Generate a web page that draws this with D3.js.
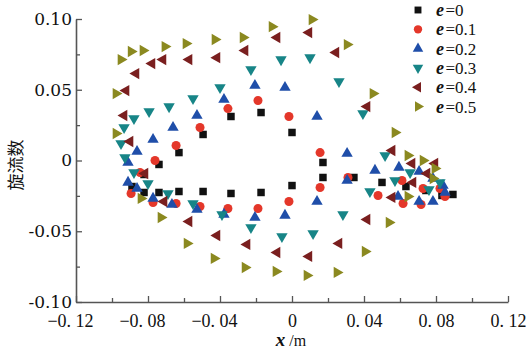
<!DOCTYPE html>
<html>
<head>
<meta charset="utf-8">
<script src="https://cdn.jsdelivr.net/npm/d3@7"></script>
<style>
  body { margin: 0; background: #fff; }
  svg { display: block; }
</style>
</head>
<body>
<svg id="chart"></svg>
<script>
// data: [x (m), swirl number]
const e0 = [[-0.0889,-0.0184],[-0.0822,-0.0099],[-0.0822,-0.0226],[-0.0739,-0.0226],[-0.0628,-0.0219],[-0.0494,-0.0219],[-0.0339,-0.0233],[-0.0172,-0.0226],[0,-0.0177],[0.0172,-0.0120],[0.0344,-0.0120],[0.0500,-0.0155],[0.0633,-0.0184],[0.0744,-0.0212],[0.0833,-0.0247],[0.0894,-0.0240],[0.0172,-0.0014],[0,0.0198],[-0.0172,0.0339],[-0.0339,0.0311],[-0.0494,0.0184],[-0.0628,0.0056],[-0.0739,-0.0028]];
const e1 = [[-0.0844,-0.0085],[-0.0761,0],[-0.0644,0.0106],[-0.0511,0.0233],[-0.0356,0.0367],[-0.0189,0.0424],[-0.0017,0.0311],[0.0156,0.0056],[0.0311,-0.0120],[0.0478,-0.0247],[0.0611,-0.0141],[0.0728,-0.0198],[0.0850,-0.0254],[0.0822,-0.0198],[0.0717,-0.0311],[0.0617,-0.0304],[0.0156,-0.0191],[-0.0017,-0.0290],[-0.0189,-0.0339],[-0.0356,-0.0339],[-0.0511,-0.0325],[-0.0644,-0.0304],[-0.0772,-0.0297],[-0.0894,-0.0233]];
const e2 = [[-0.0911,-0.0014],[-0.0861,0.0064],[-0.0772,0.0148],[-0.0661,0.0233],[-0.0528,0.0318],[-0.0378,0.0431],[-0.0206,0.0530],[-0.0039,0.0516],[0.0139,0.0311],[0.0306,0.0049],[0.0461,-0.0070],[0.0594,-0.0049],[0.0706,-0.0078],[0.0783,-0.0127],[0.0839,-0.0177],[0.0850,-0.0226],[0.0783,-0.0290],[0.0706,-0.0290],[0.0589,-0.0254],[0.0306,-0.0141],[0.0139,-0.0290],[-0.0039,-0.0388],[-0.0206,-0.0403],[-0.0378,-0.0381],[-0.0528,-0.0346],[-0.0667,-0.0311],[-0.0772,-0.0268],[-0.0861,-0.0198],[-0.0911,-0.0155]];
const e3 = [[-0.0950,0.0120],[-0.0933,0.0233],[-0.0878,0.0297],[-0.0794,0.0346],[-0.0683,0.0381],[-0.0550,0.0438],[-0.0400,0.0516],[-0.0228,0.0643],[-0.0061,0.0713],[0.0100,0.0727],[0.0261,0.0558],[0.0394,0.0332],[0.0517,0.0035],[0.0656,-0.0085],[0.0761,-0.0205],[0.0822,-0.0155],[0.0572,-0.0141],[0.0433,-0.0219],[0.0283,-0.0381],[0.0117,-0.0516],[-0.0056,-0.0537],[-0.0228,-0.0473],[-0.0389,-0.0381],[-0.0550,-0.0304],[-0.0689,-0.0233],[-0.0800,-0.0162],[-0.0878,-0.0085],[-0.0928,0.0021]];
const e4 = [[-0.0933,0.0318],[-0.0922,0.0494],[-0.0867,0.0614],[-0.0778,0.0685],[-0.0717,0.0713],[-0.0572,0.0713],[-0.0417,0.0727],[-0.0261,0.0777],[-0.0083,0.0869],[0.0094,0.0904],[0.0244,0.0763],[0.0417,0.0381],[0.0556,0.0071],[0.0667,-0.0021],[0.0794,-0.0021],[0.0750,-0.0092],[0.0672,-0.0155],[0.0556,-0.0261],[0.0417,-0.0417],[0.0261,-0.0586],[0.0094,-0.0678],[-0.0083,-0.0650],[-0.0250,-0.0593],[-0.0417,-0.0530],[-0.0572,-0.0431],[-0.0711,-0.0290],[-0.0817,-0.0092],[-0.0900,0.0134]];
const e5 = [[-0.0978,0.0191],[-0.0978,0.0473],[-0.0950,0.0713],[-0.0894,0.0770],[-0.0828,0.0777],[-0.0706,0.0805],[-0.0589,0.0826],[-0.0428,0.0855],[-0.0272,0.0869],[-0.0111,0.0946],[0.0111,0.0996],[0.0306,0.0819],[0.0450,0.0473],[0.0572,0.0198],[0.0644,0.0035],[0.0728,0],[0.0794,-0.0056],[0.0783,-0.0127],[0.0644,-0.0254],[0.0539,-0.0438],[0.0406,-0.0643],[0.0250,-0.0791],[0.0083,-0.0812],[-0.0089,-0.0784],[-0.0261,-0.0756],[-0.0433,-0.0692],[-0.0583,-0.0586],[-0.0728,-0.0403],[-0.0839,-0.0268]];

const seriesNames = ["0", "0.1", "0.2", "0.3", "0.4", "0.5"];
const seriesData = [e0, e1, e2, e3, e4, e5];
const xTicks = [-0.12, -0.08, -0.04, 0, 0.04, 0.08, 0.12];
const xTickLabels = ["\u22120. 12", "\u22120. 08", "\u22120. 04", "0", "0. 04", "0. 08", "0. 12"];
const yTicks = [-0.10, -0.05, 0, 0.05, 0.10];
const yTickLabels = ["-0.10", "-0.05", "0", "0.05", "0.10"];

const width = 526, height = 355;
const svg = d3.select("#chart").attr("width", width).attr("height", height);

const x = d3.scaleLinear().domain([-0.12, 0.12]).range([76, 508]);
const y = d3.scaleLinear().domain([-0.10, 0.10]).range([302, 19]);

const axisColor = "#555";

//marker styles per series
const styles = [
  {type: d3.symbolSquare, size: 56, rot: 0, color: "#111111"},
  {type: d3.symbolCircle, size: 64, rot: 0, color: "#e4372a"},
  {type: d3.symbolTriangle, size: 56, rot: 0, color: "#1f4ea9"},
  {type: d3.symbolTriangle, size: 56, rot: 180, color: "#178587"},
  {type: d3.symbolTriangle, size: 56, rot: -90, color: "#7a1f1f"},
  {type: d3.symbolTriangle, size: 56, rot: 90, color: "#8b8920"}
];

//Axes (ticks inward)
const yAxis = svg.append("g")
  .attr("transform", `translate(${x(-0.12)},0)`)
  .call(d3.axisLeft(y).tickValues(yTicks).tickSize(-6).tickSizeOuter(0).tickPadding(4)
    .tickFormat((d, i) => yTickLabels[i]));
svg.append("g")
  .attr("transform", `translate(${x(-0.12)},0)`)
  .call(d3.axisLeft(y).tickValues([-0.075, -0.025, 0.025, 0.075]).tickSize(-4).tickSizeOuter(0).tickFormat(""))
  .select(".domain").remove();

const xAxis = svg.append("g")
  .attr("transform", `translate(0,${y(-0.10)})`)
  .call(d3.axisBottom(x).tickValues(xTicks).tickSize(-6).tickSizeOuter(0).tickPadding(12)
    .tickFormat((d, i) => xTickLabels[i]));
svg.append("g")
  .attr("transform", `translate(0,${y(-0.10)})`)
  .call(d3.axisBottom(x).tickValues([-0.10, -0.06, -0.02, 0.02, 0.06, 0.10]).tickSize(-4).tickSizeOuter(0).tickFormat(""))
  .select(".domain").remove();

svg.selectAll(".domain").attr("stroke", axisColor).attr("stroke-width", 1.6);
svg.selectAll(".tick line").attr("stroke", axisColor).attr("stroke-width", 1.3);

yAxis.selectAll("text")
  .attr("font-family", "DejaVu Serif")
  .attr("font-size", 17)
  .attr("fill", "#111");

xAxis.selectAll("text")
  .attr("font-family", "Liberation Serif")
  .attr("font-size", 18)
  .attr("fill", "#111")
  .attr("dx", d => d < 0 ? -6 : 0);

//Axis titles
const xTitle = svg.append("text")
  .attr("x", 291).attr("y", 346)
  .attr("text-anchor", "middle")
  .attr("font-family", "Liberation Serif")
  .attr("font-size", 19)
  .attr("fill", "#111");
xTitle.append("tspan").attr("font-style", "italic").attr("font-weight", "bold").text("x");
xTitle.append("tspan").attr("font-size", 16).text(" /m");

svg.append("text")
  .attr("transform", "translate(22,165) rotate(-90)")
  .attr("text-anchor", "middle")
  .attr("font-family", "Noto Sans CJK SC")
  .attr("font-size", 17)
  .attr("fill", "#111")
  .text("旋流数");

//Points
seriesData.forEach((data, i) => {
  const s = styles[i];
  const sym = d3.symbol().type(s.type).size(s.size);
  svg.append("g")
    .attr("class", "series" + i)
    .selectAll("path")
    .data(data)
    .join("path")
    .attr("d", sym)
    .attr("transform", d => `translate(${x(d[0])},${y(d[1])}) rotate(${s.rot})`)
    .attr("fill", s.color);
});

//Legend
const legend = svg.append("g").attr("class", "legend");
seriesNames.forEach((name, i) => {
  const s = styles[i];
  const ly = 10 + i * 19.3;
  legend.append("path")
    .attr("d", d3.symbol().type(s.type).size(s.size * 0.85)())
    .attr("transform", `translate(418,${ly}) rotate(${s.rot})`)
    .attr("fill", s.color);
  const t = legend.append("text")
    .attr("x", 436).attr("y", ly + 6)
    .attr("font-family", "Liberation Serif")
    .attr("font-size", 17)
    .attr("fill", "#111");
  t.append("tspan").attr("font-style", "italic").attr("font-weight", "bold").attr("font-size", 18).text("e");
  t.append("tspan").attr("dx", 1.5).text("=" + name);
});
</script>
</body>
</html>
